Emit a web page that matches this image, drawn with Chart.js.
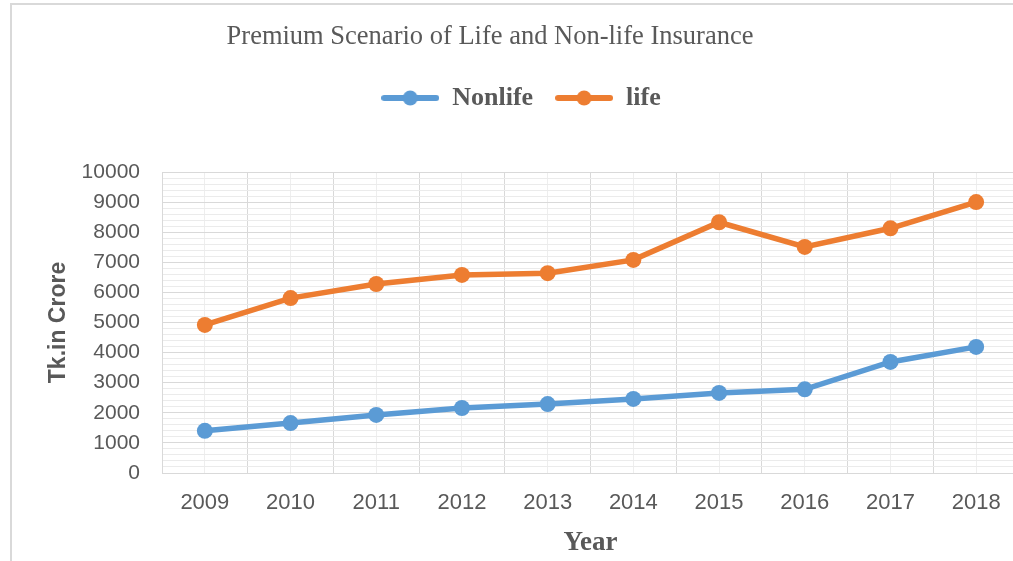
<!DOCTYPE html>
<html>
<head>
<meta charset="utf-8">
<title>Premium Scenario of Life and Non-life Insurance</title>
<script src="https://cdn.jsdelivr.net/npm/chart.js@4.4.1/dist/chart.umd.min.js"></script>
<style>
  html, body { margin: 0; padding: 0; overflow: hidden; background: #fff; }
  canvas { display: block; }
</style>
</head>
<body>
<canvas id="chart" width="1042" height="561"></canvas>
<script>
// data (Tk. in crore)
const years = ['2009', '2010', '2011', '2012', '2013', '2014', '2015', '2016', '2017', '2018'];
const nonlife = [1400, 1660, 1930, 2160, 2290, 2460, 2660, 2780, 3690, 4190];
const life = [4920, 5810, 6280, 6580, 6640, 7080, 8330, 7510, 8130, 9000];

const BLUE = '#5B9BD5';
const ORANGE = '#ED7D31';
const TEXT = '#595959';

// legend marker: line with a dot, like the spreadsheet legend
function legendMarker(color) {
  const c = document.createElement('canvas');
  c.width = 58;
  c.height = 16;
  const g = c.getContext('2d');
  g.strokeStyle = color;
  g.lineWidth = 6;
  g.lineCap = 'round';
  g.beginPath();
  g.moveTo(3, 8);
  g.lineTo(55, 8);
  g.stroke();
  g.fillStyle = color;
  g.beginPath();
  g.arc(29, 8, 7.5, 0, Math.PI * 2);
  g.fill();
  return c;
}

// outer frame + chart title
const decorations = {
  id: 'decorations',
  beforeDraw(chart) {
    const ctx = chart.ctx;
    ctx.save();
    ctx.strokeStyle = '#d9d9d9';
    ctx.lineWidth = 2;
    ctx.strokeRect(11, 4, 1200, 800);
    ctx.restore();
  },
  afterDraw(chart) {
    const ctx = chart.ctx;
    ctx.save();
    ctx.fillStyle = TEXT;
    ctx.font = '26.5px "Liberation Serif"';
    ctx.textAlign = 'center';
    ctx.textBaseline = 'middle';
    ctx.fillText('Premium Scenario of Life and Non-life Insurance', 490, 37);
    ctx.restore();
  }
};

// push the plot area down below the legend
const legendSpace = {
  id: 'legendSpace',
  beforeLayout(chart) {
    const lg = chart.legend;
    if (lg && !lg._patched) {
      const fit = lg.fit;
      lg.fit = function () {
        fit.call(this);
        this.height = 172 - 63;
      };
      lg._patched = true;
    }
  }
};

const ctx = document.getElementById('chart').getContext('2d');
new Chart(ctx, {
  type: 'line',
  data: {
    labels: years,
    datasets: [
      {
        label: 'Nonlife',
        data: nonlife,
        borderColor: BLUE,
        backgroundColor: BLUE,
        borderWidth: 5.5,
        pointRadius: 8,
        pointBorderWidth: 0,
        pointStyle: 'circle',
        xAxisID: 'x'
      },
      {
        label: 'life',
        data: life,
        borderColor: ORANGE,
        backgroundColor: ORANGE,
        borderWidth: 5.5,
        pointRadius: 8,
        pointBorderWidth: 0,
        pointStyle: 'circle',
        xAxisID: 'x'
      }
    ]
  },
  options: {
    responsive: false,
    animation: false,
    layout: { padding: { top: 63, left: 23, right: 23, bottom: 0 } },
    plugins: {
      tooltip: { enabled: false },
      title: { display: false },
      legend: {
        position: 'top',
        labels: {
          color: TEXT,
          font: { family: '"Liberation Serif"', size: 26, weight: 'bold' },
          padding: 22,
          usePointStyle: true,
          pointStyleWidth: 58,
          generateLabels(chart) {
            return chart.data.datasets.map((ds, i) => ({
              text: ds.label,
              fontColor: TEXT,
              pointStyle: legendMarker(ds.borderColor),
              lineWidth: 0,
              strokeStyle: 'transparent',
              fillStyle: ds.borderColor,
              datasetIndex: i,
              hidden: false
            }));
          }
        }
      }
    },
    scales: {
      x: {
        type: 'category',
        offset: true,
        grid: { offset: true, color: '#d9d9d9', drawTicks: false },
        border: { color: '#d9d9d9' },
        ticks: {
          color: TEXT,
          font: { family: '"Liberation Sans"', size: 22 },
          padding: 17,
          maxRotation: 0
        },
        title: {
          display: true,
          text: 'Year',
          color: TEXT,
          font: { family: '"Liberation Serif"', size: 27, weight: 'bold' },
          padding: { top: 0, bottom: 2 }
        },
        afterFit(scale) { scale.height = 88; }
      },
      x2: {
        type: 'category',
        labels: years,
        position: 'bottom',
        offset: true,
        grid: { offset: false, color: '#eeeeee', drawTicks: false },
        border: { display: false },
        ticks: { display: false },
        afterFit(scale) { scale.height = 0; }
      },
      y: {
        min: 0,
        max: 10000,
        grid: {
          drawTicks: false,
          color: (c) => (c.tick && c.tick.value % 1000 === 0 ? '#d9d9d9' : '#ebebeb')
        },
        border: { color: '#d9d9d9' },
        ticks: {
          stepSize: 200,
          autoSkip: false,
          color: TEXT,
          font: { family: '"Liberation Sans"', size: 21 },
          padding: 22,
          callback: (v) => (v % 1000 === 0 ? String(v) : '')
        },
        title: {
          display: true,
          text: 'Tk.in Crore',
          color: TEXT,
          font: { family: '"Liberation Sans"', size: 23, weight: 'bold' },
          padding: { top: 22, bottom: 10 }
        },
        afterFit(scale) { scale.width = 139; }
      }
    }
  },
  plugins: [decorations, legendSpace]
});
</script>
</body>
</html>
